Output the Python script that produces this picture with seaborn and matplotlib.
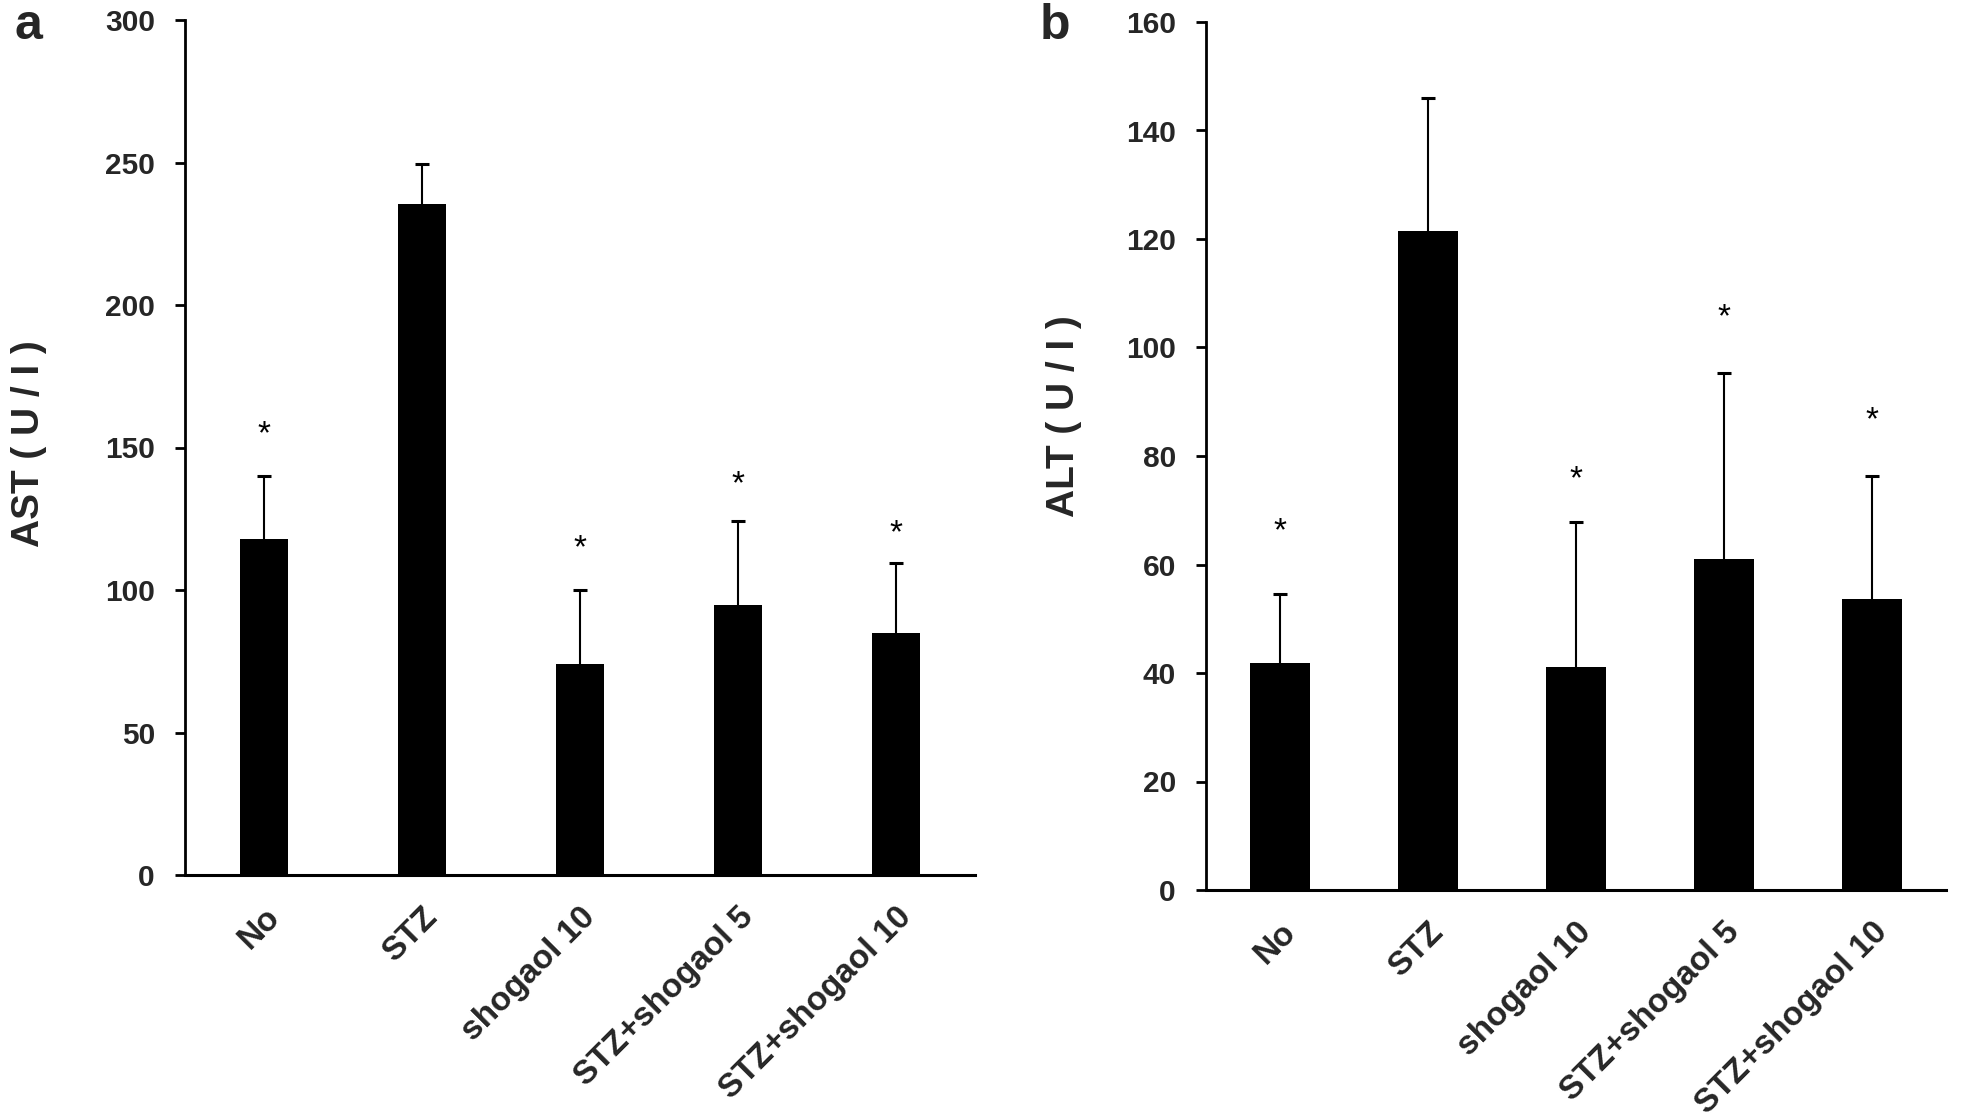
import numpy as np
import pandas as pd
import matplotlib
matplotlib.use("Agg")
import matplotlib.pyplot as plt
import seaborn as sns

# ---------------- data ----------------
categories = ["No", "STZ", "shogaol 10", "STZ+shogaol 5", "STZ+shogaol 10"]

ast_mean = [118.0, 235.4, 74.2, 94.6, 84.9]
ast_err = [22.0, 14.0, 25.8, 29.6, 24.5]
ast_star = [158.0, None, 118.0, 140.5, 123.3]

alt_mean = [41.9, 121.5, 41.1, 61.0, 53.6]
alt_err = [12.6, 24.4, 26.8, 34.3, 22.7]
alt_star = [67.9, None, 77.6, 107.3, 88.3]

ast_ticks = [0, 50, 100, 150, 200, 250, 300]
alt_ticks = [0, 20, 40, 60, 80, 100, 120, 140, 160]

# ---------------- style ----------------
sns.set_theme(style="ticks")
plt.rcParams["font.family"] = ["Liberation Sans", "DejaVu Sans"]

W, H = 1961, 1119
fig = plt.figure(figsize=(W / 100, H / 100), dpi=100)
fig.patch.set_facecolor("white")

ax1 = fig.add_axes([185 / W, 1 - 875 / H, 790 / W, 855 / H])
ax2 = fig.add_axes([1206 / W, 1 - 890 / H, 740 / W, 868 / H])


def draw(ax, means, errs, stars, ticks, ylabel, width, label_y):
    df = pd.DataFrame({"group": categories, "value": means})
    sns.barplot(data=df, x="group", y="value", color="black", saturation=1,
                width=width, errorbar=None, ax=ax, edgecolor="none")
    xs = np.arange(len(categories))
    eb = ax.errorbar(xs, means, yerr=[np.zeros(len(means)), errs],
                     fmt="none", ecolor="black", elinewidth=1.5, capsize=5,
                     capthick=2.2, zorder=5)
    # keep only the upper caps
    for cap in eb[1]:
        if np.allclose(np.asarray(cap.get_ydata(), float), means):
            cap.set_visible(False)
    for x, s in zip(xs, stars):
        if s is not None:
            ax.annotate("*", xy=(x, s), xytext=(0, -13.5),
                        textcoords="offset points", ha="center",
                        va="baseline", fontsize=24, color="black")
    ax.set_xlim(-0.5, len(categories) - 0.5)
    ax.set_ylim(ticks[0], ticks[-1])
    ax.set_yticks(ticks)
    ax.set_yticklabels([str(t) for t in ticks], fontsize=21.5,
                       fontweight="bold")
    ax.set_xticks(xs)
    ax.set_xticklabels(categories, fontsize=24, fontweight="bold",
                       rotation=45, ha="right", va="top",
                       rotation_mode="anchor")
    ax.tick_params(axis="x", length=0, pad=19)
    ax.tick_params(axis="y", length=7.2, width=2.0, pad=14.5,
                   direction="out", color="black")
    ax.set_xlabel("")
    ax.set_ylabel(ylabel, fontsize=28, fontweight="bold")
    ax.yaxis.set_label_coords(label_y[0], label_y[1])
    for side in ["top", "right"]:
        ax.spines[side].set_visible(False)
    ax.spines["left"].set_linewidth(2.0)
    ax.spines["bottom"].set_linewidth(2.2)
    ax.spines["left"].set_color("black")
    ax.spines["bottom"].set_color("black")
    ax.set_facecolor("white")
    ax.grid(False)


draw(ax1, ast_mean, ast_err, ast_star, ast_ticks, "AST ( U / I )", 0.31,
     (-0.175, 0.504))
draw(ax2, alt_mean, alt_err, alt_star, alt_ticks, "ALT ( U / I )", 0.40,
     (-0.168, 0.5455))

fig.text(15 / W, 1 - 39 / H, "a", fontsize=36, fontweight="bold",
         ha="left", va="baseline")
fig.text(1040 / W, 1 - 39 / H, "b", fontsize=36, fontweight="bold",
         ha="left", va="baseline")

fig.savefig("out.png", dpi=100, facecolor="white")
